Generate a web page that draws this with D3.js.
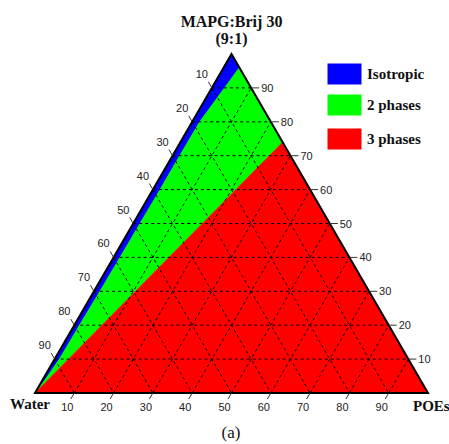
<!DOCTYPE html>
<html><head><meta charset="utf-8">
<script src="https://cdn.jsdelivr.net/npm/d3@7"></script>
<style>body{margin:0;background:#fff}svg{display:block}</style>
</head><body>
<script>
// ---- data ----
const tickValues = [10, 20, 30, 40, 50, 60, 70, 80, 90];
const titleLines = ["MAPG:Brij 30", "(9:1)"];
const vertexLabels = ["Water", "POEs"];
const caption = "(a)";
const phaseNames = ["Isotropic", "2 phases", "3 phases"];
const phaseColors = ["#0000ff", "#00ff00", "#ff0000"];
// boundaries as [MAPG, POEs] (%), Water = rest
const isoBoundary = [[96, 4], [90, 3.2], [80, 1.9], [70, 1.8], [60, 1.8], [50, 1.7], [40, 1.6], [30, 1.5], [20, 1.3], [10, 1.2], [3, 0.5], [0, 0]];
const twoPhaseEdge = [74, 26]; // where the 2/3 phase boundary meets the right side

// ---- layout ----
const W = 449, H = 444;
const svg = d3.select("body").append("svg").attr("width", W).attr("height", H);
const xS = d3.scaleLinear().domain([0, 100]).range([35, 428]);
const yS = d3.scaleLinear().domain([0, 100]).range([393, 54]);
const P = (mapg, poes) => [xS(poes + mapg / 2), yS(mapg)];

// regions
const red = [P(0, 0), P(twoPhaseEdge[0], twoPhaseEdge[1]), P(0, 100)];
const green = [P(0, 0)].concat(isoBoundary.slice().reverse().map(d => P(d[0], d[1])))
  .concat([P(twoPhaseEdge[0], twoPhaseEdge[1])]);
const blue = [P(0, 0), P(100, 0)].concat(isoBoundary.map(d => P(d[0], d[1])));
const line = d3.line();
[[blue, 0], [green, 1], [red, 2]].forEach(([pts, i]) => {
  svg.append("path").attr("d", line(pts) + "Z").attr("fill", phaseColors[i]).attr("stroke", phaseColors[i]).attr("stroke-width", 0.5);
});

// grid
const g = svg.append("g").attr("stroke", "#000").attr("stroke-width", 1).attr("stroke-dasharray", "3,3").attr("fill", "none");
tickValues.forEach(v => {
  // constant MAPG
  g.append("path").attr("d", line([P(v, 0), P(v, 100 - v)]));
  // constant POEs
  g.append("path").attr("d", line([P(0, v), P(100 - v, v)]));
  // constant Water
  g.append("path").attr("d", line([P(100 - v, 0), P(0, 100 - v)]));
});

// outline
svg.append("path").attr("d", line([P(0, 0), P(100, 0), P(0, 100)]) + "Z")
  .attr("fill", "none").attr("stroke", "#000").attr("stroke-width", 2).attr("stroke-linejoin", "miter");

// ticks + labels
const tk = svg.append("g").attr("stroke", "#333").attr("stroke-width", 1);
const lab = svg.append("g").attr("font-family", "Liberation Sans, Arial, sans-serif").attr("font-size", 11).attr("fill", "#222");
const c30 = 0.5, s60 = Math.sqrt(3) / 2, tl = 7;
tickValues.forEach(v => {
  // bottom (POEs)
  let [x, y] = P(0, v);
  tk.append("line").attr("x1", x).attr("y1", y).attr("x2", x - c30 * tl).attr("y2", y + s60 * tl);
  lab.append("text").attr("x", x - 7).attr("y", y + 18).attr("text-anchor", "middle").text(v);
  // right (MAPG)
  [x, y] = P(v, 100 - v);
  tk.append("line").attr("x1", x).attr("y1", y).attr("x2", x + 8).attr("y2", y);
  lab.append("text").attr("x", x + 10).attr("y", y + 4).attr("text-anchor", "start").text(v);
  // left (Water)
  [x, y] = P(100 - v, 0);
  tk.append("line").attr("x1", x).attr("y1", y).attr("x2", x - c30 * tl).attr("y2", y - s60 * tl);
  lab.append("text").attr("x", x - 10).attr("y", y - 10).attr("text-anchor", "middle").text(v);
});

// titles
const serif = "Liberation Serif, Times New Roman, serif";
const apex = P(100, 0);
svg.append("text").attr("x", apex[0]).attr("y", 27).attr("text-anchor", "middle").attr("font-family", serif)
  .attr("font-weight", "bold").attr("font-size", 16).attr("fill", "#111").text(titleLines[0]);
svg.append("text").attr("x", apex[0]).attr("y", 44).attr("text-anchor", "middle").attr("font-family", serif)
  .attr("font-weight", "bold").attr("font-size", 16).attr("fill", "#111").text(titleLines[1]);
svg.append("text").attr("x", 10).attr("y", 409).attr("font-family", serif).attr("font-weight", "bold")
  .attr("font-size", 15).attr("fill", "#111").text(vertexLabels[0]);
svg.append("text").attr("x", 413).attr("y", 411).attr("font-family", serif).attr("font-weight", "bold")
  .attr("font-size", 15).attr("fill", "#111").text(vertexLabels[1]);
svg.append("text").attr("x", 231).attr("y", 438).attr("text-anchor", "middle").attr("font-family", serif)
  .attr("font-size", 17).attr("fill", "#111").text(caption);

// legend
const legY = [64, 95, 129];
phaseNames.forEach((n, i) => {
  svg.append("rect").attr("x", 328).attr("y", legY[i]).attr("width", 33).attr("height", 20)
    .attr("fill", phaseColors[i]).attr("stroke", d3.color(phaseColors[i]).brighter(0.6)).attr("stroke-width", 1);
  svg.append("text").attr("x", 367).attr("y", legY[i] + 14.5).attr("font-family", serif).attr("font-weight", "bold")
    .attr("font-size", 15).attr("fill", "#111").text(n);
});
</script>
</body></html>
